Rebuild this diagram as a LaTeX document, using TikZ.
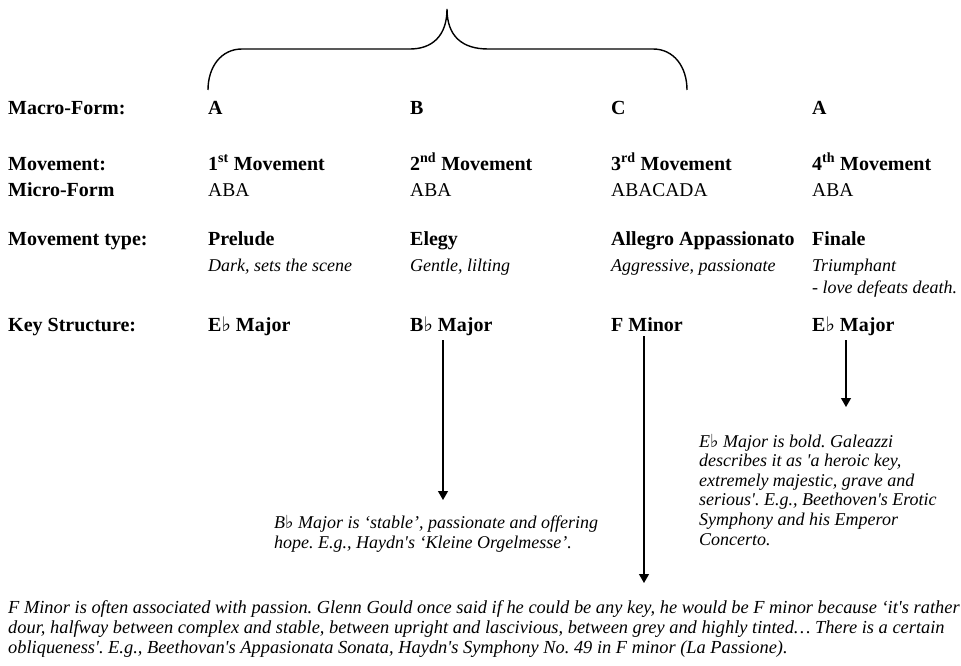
\documentclass[tikz,border=0pt]{standalone}
\usepackage{fontspec}
\setmainfont{Liberation Serif}
\newfontfamily\symfont{DejaVu Serif}
\usetikzlibrary{arrows.meta}
\newcommand{\fl}{{\symfont\char"266D}}
\newcommand{\sq}{\textquotesingle}
\frenchspacing
\begin{document}
\begin{tikzpicture}[x=1pt,y=-1pt,
  hd/.style={font=\fontsize{20}{26}\selectfont\bfseries, anchor=base west, inner sep=0pt},
  rg/.style={font=\fontsize{19.5}{26}\selectfont, anchor=base west, inner sep=0pt},
  it/.style={font=\fontsize{18}{22}\selectfont\itshape, anchor=base west, inner sep=0pt, align=left},
  desc/.style={font=\fontsize{18}{19.6}\selectfont\itshape, anchor=base west, inner sep=0pt, align=left},
  arr/.style={line width=1.2pt, -{Triangle[width=10pt,length=9pt]}, shorten <=5pt},
  brace/.style={line width=1.4pt}]
\useasboundingbox (0,0) rectangle (961,666);
% brace
\draw[brace] (208,90) .. controls (208,67) and (221,49) .. (242,49) -- (410,49)
  .. controls (432,49) and (447,36) .. (447,9)
  .. controls (447,36) and (462,49) .. (488,49) -- (653,49)
  .. controls (674,49) and (687,67) .. (687,90);
% row labels
\node[hd] (lmacro) at (8,115) {Macro-Form:};
\node[hd] (lmov) at (8,170) {Movement:};
\node[hd] (lmicro) at (8,196) {Micro-Form};
\node[hd] (ltype) at (8,245) {Movement type:};
\node[hd] (lkey) at (8,331) {Key Structure:};
% macro form
\node[hd] (ma1) at (208,115) {A};
\node[hd] (ma2) at (410,115) {B};
\node[hd] (ma3) at (611,115) {C};
\node[hd] (ma4) at (812,115) {A};
% movements
\node[hd] (mv1) at (208,170) {1\textsuperscript{st} Movement};
\node[hd] (mv2) at (410,170) {2\textsuperscript{nd} Movement};
\node[hd] (mv3) at (611,170) {3\textsuperscript{rd} Movement};
\node[hd] (mv4) at (812,170) {4\textsuperscript{th} Movement};
% micro form
\node[rg] (mi1) at (208,196) {ABA};
\node[rg] (mi2) at (410,196) {ABA};
\node[rg] (mi3) at (611,196) {ABACADA};
\node[rg] (mi4) at (812,196) {ABA};
% types
\node[hd] (ty1) at (208,245) {Prelude};
\node[hd] (ty2) at (410,245) {Elegy};
\node[hd] (ty3) at (611,245) {Allegro Appassionato};
\node[hd] (ty4) at (812,245) {Finale};
\node[it] (ch1) at (208,271) {Dark, sets the scene};
\node[it] (ch2) at (410,271) {Gentle, lilting};
\node[it] (ch3) at (611,271) {Aggressive, passionate};
\node[it] (ch4) at (812,293) {Triumphant\\- love defeats death.};
% keys
\node[hd] (k1) at (208,331) {E\fl{} Major};
\node[hd] (k2) at (410,331) {B\fl{} Major};
\node[hd] (k3) at (611,331) {F Minor};
\node[hd] (k4) at (812,331) {E\fl{} Major};
% descriptions (base = last line)
\node[desc] (d4) at (699,545) {E\fl{} Major is bold. Galeazzi\\describes it as \sq a heroic key,\\extremely majestic, grave and\\serious\sq. E.g., Beethoven\sq s Erotic\\Symphony and his Emperor\\Concerto.};
\node[desc] (d2) at (274,548) {B\fl{} Major is ‘stable’, passionate and offering\\hope. E.g., Haydn\sq s ‘Kleine Orgelmesse’.};
\node[desc, font=\fontsize{18.4}{20}\selectfont\itshape] (d3) at (8,653) {F Minor is often associated with passion. Glenn Gould once said if he could be any key, he would be F minor because ‘it\sq s rather\\dour, halfway between complex and stable, between upright and lascivious, between grey and highly tinted\dots{} There is a certain\\obliqueness\sq. E.g., Beethovan\sq s Appasionata Sonata, Haydn\sq s Symphony No. 49 in F minor (La Passione).};
% arrows
\coordinate (e2) at (443,500);
\coordinate (e3) at (644,583);
\coordinate (e4) at (846,407);
\draw[arr] (e2 |- k2.south) -- (e2);
\draw[arr] (e3 |- k3.south) -- (e3);
\draw[arr] (e4 |- k4.south) -- (e4);
\end{tikzpicture}
\end{document}
